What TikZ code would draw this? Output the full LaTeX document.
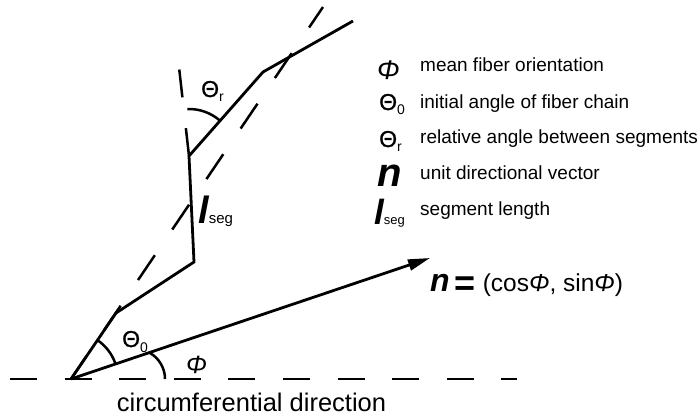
\documentclass[tikz,border=0pt]{standalone}
\usepackage{fontspec}
\setmainfont{Liberation Sans}
\usetikzlibrary{arrows.meta}

\tikzset{
  fiber/.style={line width=2.8pt, line join=miter},
  guide/.style={line width=2.5pt},
  anglearc/.style={line width=2.5pt},
  lbl/.style={inner sep=0pt, anchor=base west},
}
\newcommand{\fs}[1]{\fontsize{#1}{#1}\selectfont}
\newcommand{\subsc}[1]{\raisebox{-5pt}{\fs{14}#1}}
\newcommand{\Th}{{\fs{23}\addfontfeature{FakeBold=1.2}Θ}}

\begin{document}
\begin{tikzpicture}[x=1pt, y=-1pt]
\useasboundingbox (0,0) rectangle (697,417);
% points of the fiber chain
\coordinate (O) at (71,379);
\coordinate (p1) at (116,313);
\coordinate (p2) at (194,262);
\coordinate (p3) at (189,156);
\coordinate (p4) at (263,72);
\coordinate (p5) at (353,21);
\coordinate (mean) at (323,7);
\coordinate (ext) at (179,67);
\coordinate (tip) at (430,258);
\coordinate (hl) at (10,379);
\coordinate (hr) at (517,379);
\coordinate (phic) at (135,379);

% dashed guides
\draw[guide, dash pattern=on 27pt off 27.6pt] (hl) -- (hr);
\draw[guide, dash pattern=on 30pt off 31pt, dash phase=2.5pt] (O) -- (mean);
\draw[guide, dash pattern=on 28pt off 31pt] (p3) -- (ext);

% fiber chain and direction vector
\draw[fiber] (O) -- (p1) -- (p2) -- (p3) -- (p4) -- (p5);
\draw[fiber, -{Triangle[length=22pt, width=11pt]}] (O) -- (tip);

% angles
\draw[anglearc] ([shift={(-19:47)}]O) arc[start angle=-19, end angle=-56, radius=47];
\draw[anglearc] ([shift={(-48.6:47)}]p3) arc[start angle=-48.6, end angle=-92, radius=47];
\draw[anglearc] ([shift={(-60:30)}]phic) arc[start angle=-60, end angle=0, radius=30];

% labels in the drawing
\node[lbl] (t0) at (122,347) {\Th\subsc{0}};
\node[lbl] (tr) at (201,97) {\Th\subsc{r}};
\node[lbl] (ph) at (186,373) {\fs{25}\itshape Φ};
\node[lbl] (ls) at (198,224) {\fs{38}\bfseries\itshape l\fs{15}\mdseries\upshape seg};
\node[inner sep=0pt, anchor=base] (circ) at (251.5,411.7) {\fs{25.5}circumferential direction};
\node[lbl] (nvec) at (430,291) {\fs{32}\bfseries\itshape n\hspace{5pt}\raisebox{-4pt}{\fs{36}\upshape =}\hspace{7pt}\fs{24.5}\mdseries\upshape (cos\itshape Φ\upshape, sin\itshape Φ\upshape)};

% legend
\node[lbl] (kphi) at (377,80) {\fs{27}\itshape Φ};
\node[lbl] (kt0) at (379,110) {\Th\subsc{0}};
\node[lbl] (ktr) at (379,147) {\Th\subsc{r}};
\node[lbl] (kn) at (377,187) {\fs{40}\bfseries\itshape n};
\node[lbl] (kl) at (374,225) {\fs{35}\bfseries\itshape l\fs{13}\mdseries\upshape seg};

\node[lbl] (dphi) at (420,71.7) {\fs{19}mean fiber orientation};
\node[lbl] (dt0) at (420,108.3) {\fs{19}initial angle of fiber chain};
\node[lbl] (dtr) at (420,144) {\fs{19}relative angle between segments};
\node[lbl] (dn) at (420,180) {\fs{19}unit directional vector};
\node[lbl] (dl) at (420,215) {\fs{19}segment length};
\end{tikzpicture}
\end{document}
